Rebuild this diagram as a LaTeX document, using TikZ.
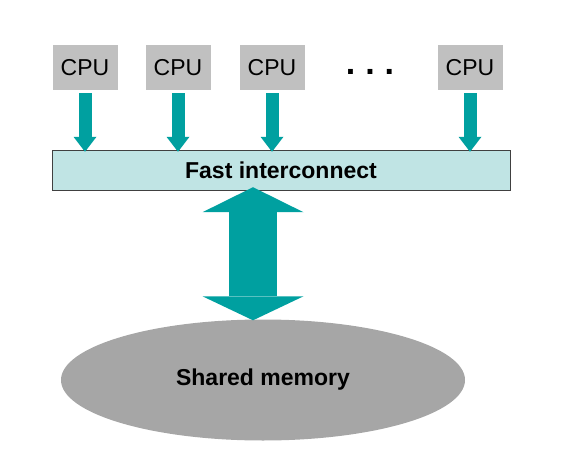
\documentclass[tikz,border=0pt]{standalone}
\usepackage{fontspec}
\setmainfont{Liberation Sans}
\usetikzlibrary{arrows.meta,shapes.geometric}
\definecolor{linkteal}{RGB}{0,160,160}
\definecolor{cpugray}{RGB}{192,192,192}
\definecolor{busfill}{RGB}{192,228,228}
\definecolor{memgray}{RGB}{166,166,166}
\begin{document}
\begin{tikzpicture}[x=1pt,y=-1pt,
    every node/.append style={font=\fontsize{23}{27}\selectfont,inner sep=0pt},
    cpubox/.style={fill=cpugray,minimum width=65pt,minimum height=45pt},
    cpuarrow/.style={line width=13pt,color=linkteal,shorten <=3pt,
        -{Triangle[width=23pt,length=15pt,line width=0pt]}},
    memarrow/.style={line width=48pt,color=linkteal,
        {Triangle[width=101pt,length=25pt,line width=0pt]}-{Triangle[width=101pt,length=24pt,line width=0pt]}}]
    \useasboundingbox (0,0) rectangle (580,462);

    \node[cpubox] (cpu1) at (85,67.5) {CPU};
    \node[cpubox] (cpu2) at (178,67.5) {CPU};
    \node[cpubox] (cpu3) at (272,67.5) {CPU};
    \node (dots) at (370,72) {\fontsize{34}{34}\selectfont\bfseries .\hspace{10pt}.\hspace{10pt}.};
    \node[cpubox] (cpu4) at (470,67.5) {CPU};

    \node[draw=black!75,fill=busfill,minimum width=458pt,minimum height=40pt,
        font=\fontsize{23}{27}\selectfont\bfseries] (bus) at (281,170) {Fast interconnect};
    \node[ellipse,fill=memgray,minimum width=404pt,minimum height=121pt,
        font=\fontsize{23}{27}\selectfont\bfseries] (mem) at (263,380) {Shared memory};

    \path
        (cpu1.south) edge[cpuarrow] ([yshift=-2pt]cpu1.south |- bus.north)
        (cpu2.south) edge[cpuarrow] ([yshift=-2pt]cpu2.south |- bus.north)
        (cpu3.south) edge[cpuarrow] ([yshift=-2pt]cpu3.south |- bus.north)
        (cpu4.south) edge[cpuarrow] ([yshift=-2pt]cpu4.south |- bus.north);
    \draw[memarrow] ([xshift=-10pt,yshift=3pt]mem.north |- bus.south) -- ([xshift=-10pt,yshift=-1pt]mem.north);
\end{tikzpicture}
\end{document}
